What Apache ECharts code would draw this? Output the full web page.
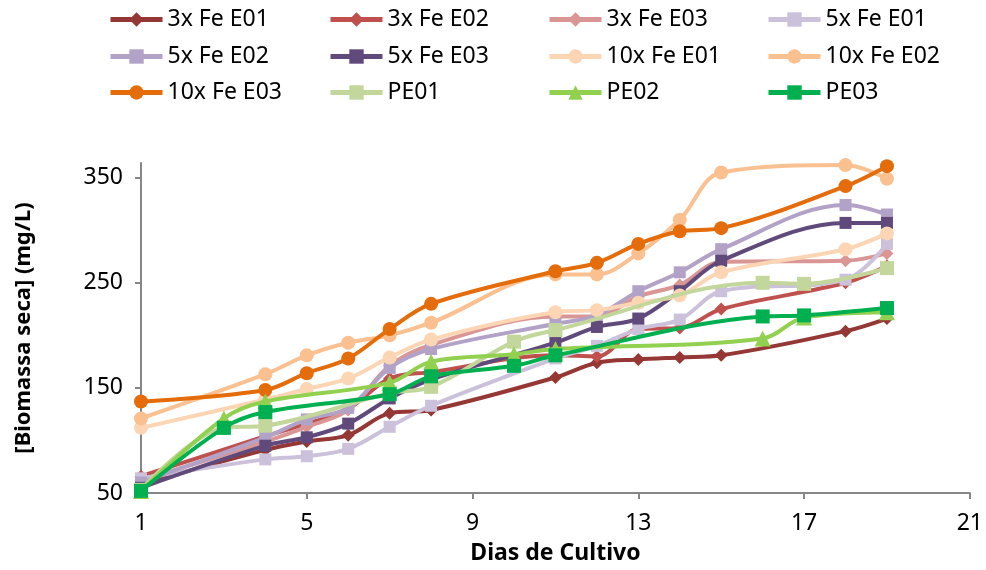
<!DOCTYPE html>
<html>
<head>
<meta charset="utf-8">
<script src="https://cdn.jsdelivr.net/npm/echarts@6/dist/echarts.min.js"></script>
<style>
html,body{margin:0;padding:0;background:#fff;}
#chart{width:986px;height:570px;}
</style>
</head>
<body>
<div id="chart"></div>
<script>
// ---- data ----
const feDays = [1, 4, 5, 6, 7, 8, 11, 12, 13, 14, 15, 18, 19];
const peDays = [1, 3, 4, 7, 8, 10, 11, 16, 17, 19];

const fe3E01 = [58, 91, 99, 105, 126, 129, 160, 174, 177, 179, 181, 204, 216];
const fe3E02 = [66, 104, 116, 130, 159, 165, 181, 180, 206, 207, 225, 250, 266];
const fe3E03 = [62, 99, 113, 129, 171, 191, 218, 218, 237, 248, 270, 271, 278];
const fe5E01 = [64, 82, 85, 92, 113, 133, 178, 190, 206, 215, 242, 253, 287];
const fe5E02 = [60, 103, 120, 131, 169, 187, 211, 219, 242, 260, 282, 324, 315];
const fe5E03 = [55, 95, 103, 116, 140, 158, 193, 208, 216, 242, 271, 307, 307];
const fe10E01 = [112, 139, 149, 159, 179, 196, 222, 224, 231, 238, 260, 282, 297];
const fe10E02 = [121, 163, 181, 193, 200, 212, 258, 258, 278, 310, 355, 362, 349];
const fe10E03 = [137, 148, 164, 178, 206, 230, 261, 269, 287, 299, 302, 342, 361];
const pe01 = [53, 112, 114, 145, 151, 194, 205, 250, 249, 264];
const pe02 = [52, 121, 137, 155, 175, 182, 187, 197, 217, 222];
const pe03 = [52, 112, 127, 144, 161, 171, 181, 218, 219, 226];

const seriesNames = ['3x Fe E01','3x Fe E02','3x Fe E03','5x Fe E01','5x Fe E02','5x Fe E03',
  '10x Fe E01','10x Fe E02','10x Fe E03','PE01','PE02','PE03'];
const xTicks = [1, 5, 9, 13, 17, 21];
const yTicks = [50, 150, 250, 350];
const xTitle = 'Dias de Cultivo';
const yTitle = '[Biomassa seca] (mg/L)';

// ---- styling ----
const FONT = "'Noto Sans', sans-serif";
const defs = [
  {d: feDays, v: fe3E01, c: '#953735', s: 'diamond', z: 13},
  {d: feDays, v: fe3E02, c: '#C0504D', s: 'diamond', z: 13},
  {d: feDays, v: fe3E03, c: '#D99694', s: 'diamond', z: 13},
  {d: feDays, v: fe5E01, c: '#CCC1DA', s: 'rect', z: 12},
  {d: feDays, v: fe5E02, c: '#B3A2C7', s: 'rect', z: 12},
  {d: feDays, v: fe5E03, c: '#604A7B', s: 'rect', z: 12},
  {d: feDays, v: fe10E01, c: '#FCD5B5', s: 'circle', z: 14},
  {d: feDays, v: fe10E02, c: '#FAC090', s: 'circle', z: 14},
  {d: feDays, v: fe10E03, c: '#E46C0A', s: 'circle', z: 14},
  {d: peDays, v: pe01, c: '#C3D69B', s: 'rect', z: 14},
  {d: peDays, v: pe02, c: '#92D050', s: 'triangle', z: 16},
  {d: peDays, v: pe03, c: '#00B050', s: 'rect', z: 14}
];

const series = defs.map((o, i) => ({
  name: seriesNames[i],
  type: 'line',
  smooth: 0.35,
  data: o.d.map((day, k) => [day, o.v[k]]),
  symbol: o.s,
  symbolSize: o.z,
  showAllSymbol: true,
  lineStyle: {color: o.c, width: 4},
  itemStyle: {color: o.c, borderWidth: 0},
  z: 2 + i
}));

const legendLeft = [108, 328, 547, 766];
const legendTop = [8, 45, 81];
const legends = seriesNames.map((n, i) => ({
  data: [n],
  left: legendLeft[i % 4],
  top: legendTop[Math.floor(i / 4)],
  padding: 0,
  itemWidth: 52,
  itemHeight: 18,
  lineStyle: {width: 5},
  textStyle: {fontFamily: FONT, fontSize: 23, color: '#000'}
}));

const axisLineStyle = {color: '#868686', width: 2};

const chart = echarts.init(document.getElementById('chart'), null, {renderer: 'canvas'});
chart.setOption({
  animation: false,
  backgroundColor: '#fff',
  legend: legends,
  grid: {left: 141, right: 14, top: 163, bottom: 75, containLabel: false},
  xAxis: {
    type: 'value',
    min: 1, max: 21,
    name: xTitle,
    nameLocation: 'middle',
    nameGap: 49,
    nameTextStyle: {fontFamily: FONT, fontSize: 23, fontWeight: 'bold', color: '#000'},
    axisLine: {show: true, lineStyle: axisLineStyle},
    axisTick: {show: true, length: 6, lineStyle: axisLineStyle, customValues: xTicks},
    axisLabel: {fontFamily: FONT, fontSize: 23, color: '#000', margin: 19, customValues: xTicks},
    splitLine: {show: false}
  },
  yAxis: {
    type: 'value',
    min: 50, max: 364,
    name: yTitle,
    nameLocation: 'middle',
    nameRotate: 90,
    nameGap: 106,
    nameTextStyle: {fontFamily: FONT, fontSize: 22, fontWeight: 'bold', color: '#000'},
    axisLine: {show: true, lineStyle: axisLineStyle},
    axisTick: {show: true, length: 6, lineStyle: axisLineStyle, customValues: yTicks},
    axisLabel: {fontFamily: FONT, fontSize: 23, color: '#000', margin: 18, customValues: yTicks},
    splitLine: {show: false}
  },
  series: series
});
</script>
</body>
</html>
